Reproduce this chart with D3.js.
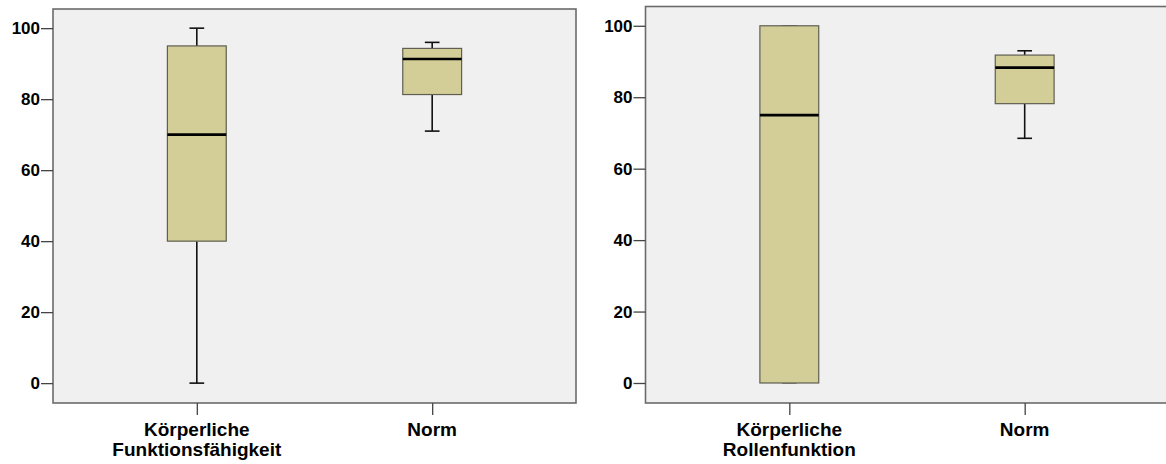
<!DOCTYPE html>
<html>
<head>
<meta charset="utf-8">
<script src="https://cdn.jsdelivr.net/npm/d3@7"></script>
<style>
  body { margin: 0; background: #fff; }
  svg { display: block; }
  text { font-family: "Liberation Sans", Arial, sans-serif; font-weight: bold; fill: #000; }
</style>
</head>
<body>
<svg id="chart"></svg>
<script>
// data
let yTicks = [0, 20, 40, 60, 80, 100];

let categoriesA = [["Körperliche", "Funktionsfähigkeit"], ["Norm"]];
let minA = [0, 71];
let q1A = [40, 81.3];
let medA = [70, 91.3];
let q3A = [95, 94.3];
let maxA = [100, 96];

let categoriesB = [["Körperliche", "Rollenfunktion"], ["Norm"]];
let minB = [0, 68.5];
let q1B = [0, 78.2];
let medB = [75, 88.3];
let q3B = [100, 91.8];
let maxB = [100, 93];

let config = { svg: { width: 1166, height: 464 } };

let svg = d3.select('#chart')
  .attr('width', config.svg.width)
  .attr('height', config.svg.height);

function translate(x, y) {
  return 'translate(' + x + ',' + y + ')';
}

function buildPanel(p) {
  let plotWidth = p.width;
  let plotHeight = p.height;

  let g = svg.append('g').attr('transform', translate(p.x, p.y));

  let yScale = d3.scaleLinear()
    .domain([-5.6, 105.4])
    .range([plotHeight, 0]);

  let names = p.categories.map(d => d.join(' '));
  let xScale = d3.scalePoint()
    .domain(names)
    .range([0, plotWidth])
    .padding(0.611);

  let boxW = xScale.step() * 0.25;
  let capW = boxW / 4;

  // plot background
  g.append('rect')
    .attr('width', plotWidth)
    .attr('height', plotHeight)
    .attr('fill', '#f0f0f0');

  let rows = names.map((n, i) => ({
    name: n,
    lines: p.categories[i],
    min: p.min[i], q1: p.q1[i], med: p.med[i], q3: p.q3[i], max: p.max[i]
  }));

  let box = g.selectAll('.box')
    .data(rows)
    .enter().append('g')
    .attr('class', 'box')
    .attr('transform', d => translate(xScale(d.name), 0));

  // whiskers
  box.append('line')
    .attr('y1', d => yScale(d.max)).attr('y2', d => yScale(d.q3))
    .attr('stroke', '#111').attr('stroke-width', 1.6);
  box.append('line')
    .attr('y1', d => yScale(d.q1)).attr('y2', d => yScale(d.min))
    .attr('stroke', '#111').attr('stroke-width', 1.6);
  box.append('line')
    .attr('x1', -capW / 2).attr('x2', capW / 2)
    .attr('y1', d => yScale(d.max)).attr('y2', d => yScale(d.max))
    .attr('stroke', d => d.max === d.q3 ? '#777' : '#111').attr('stroke-width', 1.6);
  box.append('line')
    .attr('x1', -capW / 2).attr('x2', capW / 2)
    .attr('y1', d => yScale(d.min)).attr('y2', d => yScale(d.min))
    .attr('stroke', d => d.min === d.q1 ? '#777' : '#111').attr('stroke-width', 1.6);

  // box
  box.append('rect')
    .attr('x', -boxW / 2)
    .attr('width', boxW)
    .attr('y', d => yScale(d.q3))
    .attr('height', d => yScale(d.q1) - yScale(d.q3))
    .attr('fill', '#d3ce97')
    .attr('stroke', '#5e5e52')
    .attr('stroke-width', 1.2);

  // median
  box.append('line')
    .attr('x1', -boxW / 2).attr('x2', boxW / 2)
    .attr('y1', d => yScale(d.med)).attr('y2', d => yScale(d.med))
    .attr('stroke', '#000').attr('stroke-width', 2.6);

  // frame
  g.append('rect')
    .attr('width', plotWidth)
    .attr('height', plotHeight)
    .attr('fill', 'none')
    .attr('stroke', '#6b6b6b')
    .attr('stroke-width', 1.6);

  // y axis
  let yAxis = d3.axisLeft(yScale)
    .tickValues(yTicks)
    .tickSize(12)
    .tickPadding(1);
  let yGroup = g.append('g').call(yAxis);
  yGroup.select('.domain').remove();
  yGroup.selectAll('.tick line').attr('stroke', '#444').attr('stroke-width', 1.3);
  yGroup.selectAll('.tick text')
    .style('font-size', '17px')
    .style('font-family', '"Liberation Sans", Arial, sans-serif')
    .style('font-weight', 'bold')
    .attr('fill', '#000');

  // x axis
  let xAxis = d3.axisBottom(xScale).tickSize(12).tickFormat('');
  let xGroup = g.append('g')
    .attr('transform', translate(0, plotHeight))
    .call(xAxis);
  xGroup.select('.domain').remove();
  xGroup.selectAll('.tick line').attr('stroke', '#444').attr('stroke-width', 1.3);

  // category labels
  g.selectAll('.cat')
    .data(rows)
    .enter().append('text')
    .attr('class', 'cat')
    .attr('text-anchor', 'middle')
    .attr('transform', d => translate(xScale(d.name), 0))
    .style('font-size', '19px')
    .selectAll('tspan')
    .data(d => d.lines)
    .enter().append('tspan')
    .attr('x', 0)
    .attr('y', (d, i) => 435.7 - p.y + i * 20.5)
    .text(d => d);
}

buildPanel({
  x: 53, y: 9, width: 523, height: 394,
  categories: categoriesA, min: minA, q1: q1A, med: medA, q3: q3A, max: maxA
});

buildPanel({
  x: 645.5, y: 6.5, width: 523, height: 396.5,
  categories: categoriesB, min: minB, q1: q1B, med: medB, q3: q3B, max: maxB
});
</script>
</body>
</html>
